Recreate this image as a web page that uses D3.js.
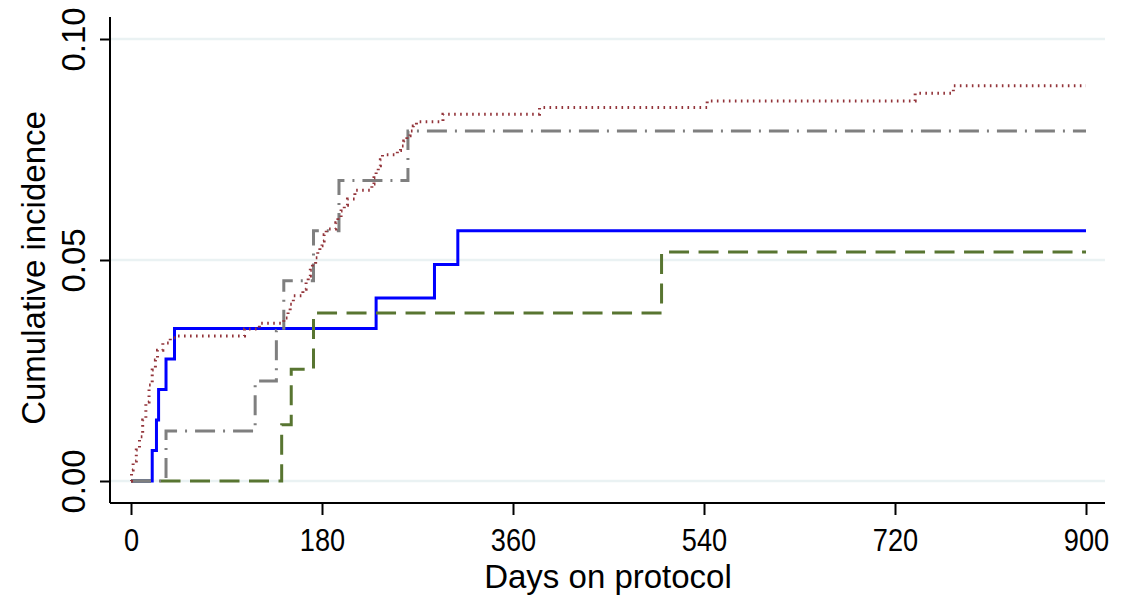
<!DOCTYPE html>
<html>
<head>
<meta charset="utf-8">
<script src="https://cdn.jsdelivr.net/npm/d3@7"></script>
<style>
  body { margin: 0; background: #fff; }
  text { font-family: "Liberation Sans", Arial, sans-serif; fill: #000; }
</style>
</head>
<body>
<svg id="chart" width="1122" height="595"></svg>
<script>
// x ticks (days) and y ticks (cumulative incidence)
const xTicks = [0, 180, 360, 540, 720, 900]
const yTicks = [0, 0.05, 0.10]

// step points [day, cumulative incidence]
const blueSteps = [[0, 0], [20, 0.0069], [24, 0.0138], [26, 0.0207], [33, 0.0276], [41, 0.0345],
  [231, 0.0414], [286, 0.0490], [308, 0.0566], [900, 0.0566]]

const greenSteps = [[0, 0], [142, 0.0127], [151, 0.0253], [172, 0.0380], [500, 0.0518], [900, 0.0518]]

const greySteps = [[0, 0], [33, 0.0113], [117, 0.0226], [137, 0.0340], [144, 0.0453], [172, 0.0566],
  [196, 0.0680], [261, 0.0792], [900, 0.0792]]

const redSteps = [[0, 0], [0.5, 0.0025], [2, 0.0045], [5, 0.0070], [8, 0.0100], [11, 0.0138],
  [14, 0.0179], [17, 0.0217], [20, 0.0251], [23, 0.0274], [25, 0.0296], [30, 0.0312], [37, 0.0324],
  [44, 0.0328], [107, 0.0344], [121, 0.0357], [144, 0.0369], [148, 0.0385], [150, 0.0400],
  [153, 0.0419], [162, 0.0434], [165, 0.0450], [167, 0.0464], [169, 0.0477], [171, 0.0491],
  [174, 0.0505], [176, 0.0520], [178, 0.0532], [180, 0.0543], [182, 0.0557], [184, 0.0570],
  [193, 0.0584], [195, 0.0597], [198, 0.0611], [201, 0.0624], [204, 0.0638], [211, 0.0658],
  [227, 0.0672], [229, 0.0686], [231, 0.0700], [233, 0.0713], [235, 0.0727], [237, 0.0738],
  [251, 0.0748], [254, 0.0758], [257, 0.0769], [260, 0.0781], [263, 0.0792], [266, 0.0803],
  [269, 0.0813], [294, 0.0830], [385, 0.0845], [543, 0.0860], [739, 0.0877], [775, 0.0894],
  [900, 0.0894]]

const svg = d3.select('#chart')

const x = d3.scaleLinear().domain([0, 900]).range([131, 1086])
const y = d3.scaleLinear().domain([0, 0.1]).range([481, 39])

const plotLeft = 110, plotRight = 1105, plotBottom = 503, plotTop = 17

// gridlines
svg.append('g')
  .selectAll('line')
  .data(yTicks)
  .enter().append('line')
    .attr('x1', plotLeft)
    .attr('x2', plotRight)
    .attr('y1', d => y(d))
    .attr('y2', d => y(d))
    .attr('stroke', '#eaf2f3')
    .attr('stroke-width', 2.5)

// curves
const line = d3.line()
  .x(d => x(d[0]))
  .y(d => y(d[1]))
  .curve(d3.curveStepAfter)

const series = [
  { data: blueSteps, color: '#0000ff', dash: null },
  { data: greenSteps, color: '#587531', dash: '20 9.5' },
  { data: greySteps, color: '#7f7f7f', dash: '20 8 2 8' },
  { data: redSteps, color: '#93343a', dash: '1.6 4.4' }
]

svg.append('g')
  .selectAll('path')
  .data(series)
  .enter().append('path')
    .attr('d', d => line(d.data))
    .attr('fill', 'none')
    .attr('stroke', d => d.color)
    .attr('stroke-width', 3)
    .attr('stroke-dasharray', d => d.dash)

// y axis
const yAxis = d3.axisLeft(y)
  .tickValues(yTicks)
  .tickSize(10)
  .tickPadding(0)
  .tickFormat(d3.format('.2f'))

const gy = svg.append('g')
  .attr('transform', 'translate(' + plotLeft + ',0)')
  .call(yAxis)
gy.select('.domain').remove()
gy.selectAll('.tick line').attr('stroke', '#000').attr('stroke-width', 2)
gy.selectAll('.tick text')
  .attr('x', null).attr('dy', null)
  .attr('text-anchor', 'middle')
  .attr('transform', 'translate(-25,0) rotate(-90)')
  .style('font-size', '33px')
  .style('font-family', '"Liberation Sans", Arial, sans-serif')

svg.append('line')
  .attr('x1', plotLeft).attr('x2', plotLeft)
  .attr('y1', plotTop).attr('y2', plotBottom)
  .attr('stroke', '#000').attr('stroke-width', 2)

// x axis
const xAxis = d3.axisBottom(x)
  .tickValues(xTicks)
  .tickSize(12)
  .tickPadding(0)

const gx = svg.append('g')
  .attr('transform', 'translate(0,' + plotBottom + ')')
  .call(xAxis)
gx.select('.domain').remove()
gx.selectAll('.tick line').attr('stroke', '#000').attr('stroke-width', 2)
gx.selectAll('.tick text')
  .attr('y', null).attr('dy', null)
  .attr('transform', 'translate(0,48) scale(0.85,1)')
  .style('font-size', '32px')
  .style('font-family', '"Liberation Sans", Arial, sans-serif')

svg.append('line')
  .attr('x1', plotLeft).attr('x2', plotRight)
  .attr('y1', plotBottom).attr('y2', plotBottom)
  .attr('stroke', '#000').attr('stroke-width', 2)

// axis titles
svg.append('text')
  .attr('x', 608)
  .attr('y', 588)
  .attr('text-anchor', 'middle')
  .style('font-size', '33px')
  .text('Days on protocol')

svg.append('text')
  .attr('transform', 'translate(45,268) rotate(-90)')
  .attr('text-anchor', 'middle')
  .style('font-size', '33px')
  .text('Cumulative incidence')
</script>
</body>
</html>
